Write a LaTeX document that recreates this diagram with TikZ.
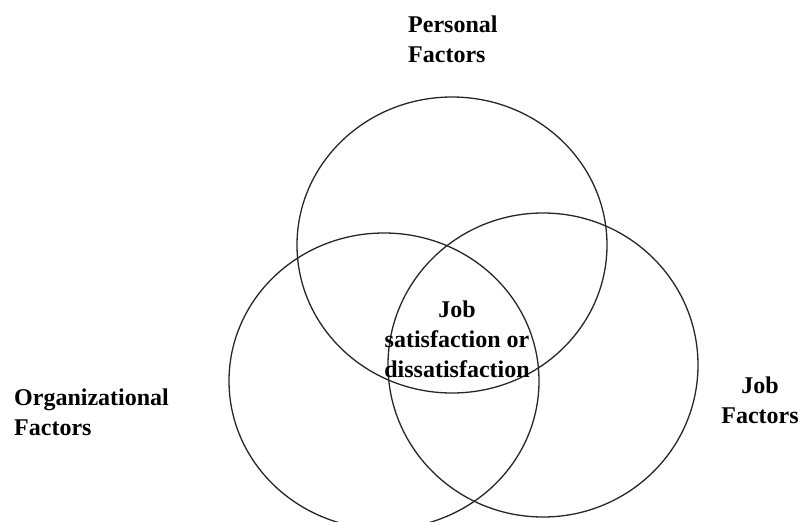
\documentclass[tikz,border=0pt]{standalone}
\usepackage{fontspec}
\setmainfont{Liberation Serif}
\usepackage{tikz}

\begin{document}
\begin{tikzpicture}[x=1pt, y=-1pt,
  venn/.style={line width=1.3pt, draw=black!85},
  factor/.style={font=\fontsize{24}{30}\selectfont\bfseries, inner sep=0pt}]
\useasboundingbox (0,0) rectangle (801,522);

\draw[venn] (452,245) ellipse (155pt and 148pt);
\draw[venn] (384,381) ellipse (155pt and 148pt);
\draw[venn] (543,365) ellipse (155pt and 152pt);

\node[factor, anchor=north west, align=left] (personal) at (408,16) {Personal\\Factors};
\node[factor, anchor=north west, align=left] (organizational) at (14,389) {Organizational\\Factors};
\node[factor, anchor=north, align=center] (job) at (760,377) {Job\\Factors};
\node[factor, anchor=north, align=center] (satisfaction) at (457,301) {Job\\satisfaction or\\dissatisfaction};
\end{tikzpicture}
\end{document}
